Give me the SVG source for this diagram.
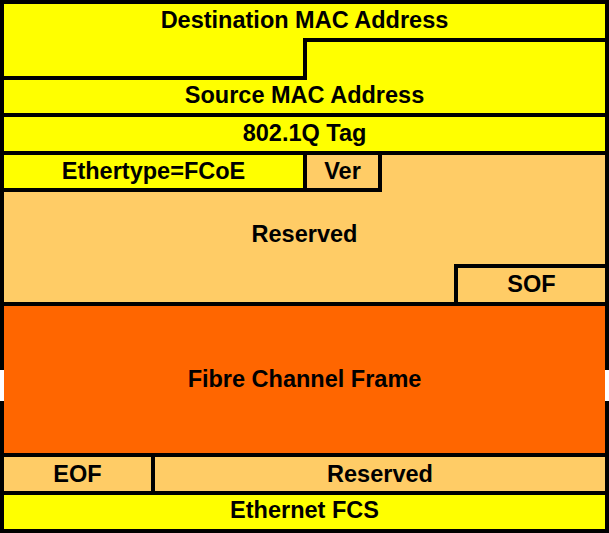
<svg xmlns="http://www.w3.org/2000/svg" width="609" height="533" viewBox="0 0 609 533">
<style>
.cell{stroke:#000;stroke-width:4;stroke-linejoin:miter}
.y{fill:#FFFF00}
.lo{fill:#FFCC66}
.do{fill:#FF6600}
.ln{fill:none;stroke:#000;stroke-width:4;stroke-linecap:square}
text{font-family:"Liberation Sans",Arial,sans-serif;font-weight:bold;font-size:23.5px;fill:#000;text-anchor:middle}
</style>
<rect width="609" height="533" fill="#fff"/>
<g id="dest-mac">
<polygon class="cell y" points="2,2 607,2 607,40 305,40 305,78 2,78"/>
<text x="304.5" y="28">Destination MAC Address</text>
</g>
<g id="source-mac">
<polygon class="cell y" points="2,78 305,78 305,40 607,40 607,115 2,115"/>
<text x="304.5" y="103">Source MAC Address</text>
</g>
<g id="tag">
<rect class="cell y" x="2" y="115" width="605" height="38"/>
<text x="304.5" y="141">802.1Q Tag</text>
</g>
<g id="ethertype">
<rect class="cell y" x="2" y="153" width="303" height="37"/>
<text x="153.5" y="179">Ethertype=FCoE</text>
</g>
<g id="ver">
<rect class="cell lo" x="305" y="153" width="75" height="37"/>
<text x="342.5" y="179">Ver</text>
</g>
<g id="reserved">
<polygon class="cell lo" points="380,153 607,153 607,266 456,266 456,304 2,304 2,190 380,190"/>
<text x="304.5" y="242">Reserved</text>
</g>
<g id="sof">
<rect class="cell lo" x="456" y="266" width="151" height="38"/>
<text x="531.5" y="292">SOF</text>
</g>
<g id="fc-frame">
<rect class="do" x="4" y="304" width="601" height="151"/>
<path class="ln" d="M2,304H607M2,455H607M2,304V368M2,403V455M607,304V368M607,403V455"/>
<text x="304.5" y="387">Fibre Channel Frame</text>
</g>
<g id="eof">
<rect class="cell lo" x="2" y="455" width="151" height="38"/>
<text x="77.5" y="482">EOF</text>
</g>
<g id="reserved2">
<rect class="cell lo" x="153" y="455" width="454" height="38"/>
<text x="380" y="482">Reserved</text>
</g>
<g id="fcs">
<rect class="cell y" x="2" y="493" width="605" height="38"/>
<text x="304.5" y="518">Ethernet FCS</text>
</g>
<g id="connectors"/>
</svg>
